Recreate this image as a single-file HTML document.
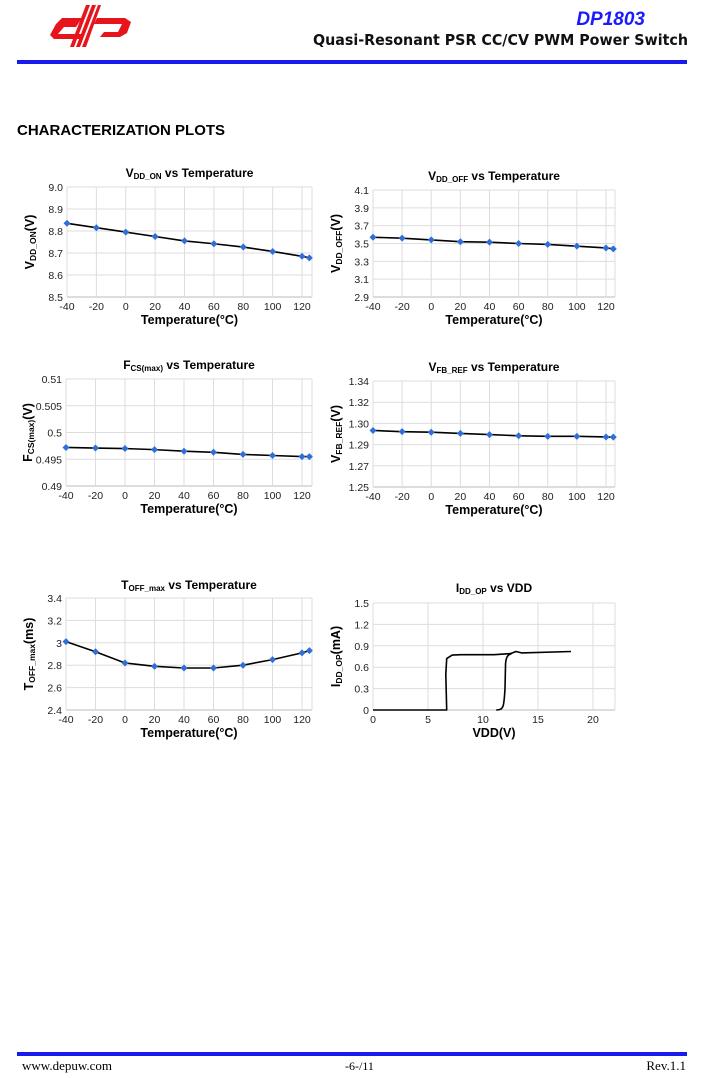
<!DOCTYPE html>
<html><head><meta charset="utf-8"><style>
html,body{margin:0;padding:0;background:#fff;}
body{width:708px;height:1078px;position:relative;overflow:hidden;font-family:"Liberation Sans",sans-serif;}
</style></head><body>
<svg id="s" width="708" height="1078" xmlns="http://www.w3.org/2000/svg" style="position:absolute;left:0;top:0">
<g fill="#e8141c">
<polygon points="62,18 82,18 76,27 64,27 58,34 84,34 80,39 54,39 50,35 56,24"/>
<polygon points="97,18 125,18 131,22 127,33 120,37 100,37 104,32 118,32 122,24 94,24"/>
<polygon points="86,5 90,5 74,47 70,47"/>
<polygon points="92,5 96,5 80,47 76,47"/>
<polygon points="98,5 101,5 86,47 82,47"/>
</g>
<text x="645" y="25" text-anchor="end" font-size="19" font-weight="bold" font-style="italic" fill="#1a1aff">DP1803</text>
<text x="688" y="45" text-anchor="end" font-size="15" font-weight="bold" fill="#111" font-family="DejaVu Sans, sans-serif" textLength="375" lengthAdjust="spacingAndGlyphs">Quasi-Resonant PSR CC/CV PWM Power Switch</text>
<rect x="17" y="60" width="670" height="4" fill="#1a1aee"/>
<text x="17" y="135" font-size="15" font-weight="bold">CHARACTERIZATION PLOTS</text>
<rect x="17" y="1052" width="670" height="4" fill="#1a1aee"/>
<text x="22" y="1070" font-size="13" font-family="Liberation Serif,serif">www.depuw.com</text>
<text x="345" y="1070" font-size="12" font-family="Liberation Serif,serif">-6-/11</text>
<text x="686" y="1070" text-anchor="end" font-size="13" font-family="Liberation Serif,serif">Rev.1.1</text>
<g id="charts"></g>
</svg>
<script>
var NS="http://www.w3.org/2000/svg",G=document.getElementById("charts");
function el(t,a,txt){var e=document.createElementNS(NS,t);for(var k in a)e.setAttribute(k,a[k]);if(txt!==undefined)e.textContent=txt;G.appendChild(e);return e;}
function rich(x,y,parts,attrs){var t=el("text",attrs);t.setAttribute("x",x);t.setAttribute("y",y);parts.forEach(function(p){var s=document.createElementNS(NS,"tspan");s.textContent=p[0];if(p[1]){s.setAttribute("font-size",p[1]);s.setAttribute("dy","2");}else if(t.childNodes.length){s.setAttribute("dy","-2");}t.appendChild(s);});return t;}
var T=[-40,-20,0,20,40,60,80,100,120,125];
function chart(c){
 var X=function(v){return c.x0+(v-c.xmin)*(c.x1-c.x0)/(c.xmax-c.xmin);};
 var Y=function(v){return c.y0-(v-c.ymin)*(c.y0-c.y1)/(c.ymax-c.ymin);};
 c.yt.forEach(function(v,i){var y=Y(v);el("line",{x1:c.x0,x2:c.xr,y1:y,y2:y,stroke:i==0?"#bbb":"#ddd","stroke-width":1});
  el("text",{x:c.x0-4,y:y+4,"text-anchor":"end","font-size":10.5,fill:"#222"},c.yl[i]);});
 c.xt.forEach(function(v){var x=X(v);el("line",{x1:x,x2:x,y1:c.y1,y2:c.y0,stroke:"#ddd","stroke-width":1});
  el("text",{x:x,y:c.y0+13,"text-anchor":"middle","font-size":10.5,fill:"#222"},String(v));});
 el("line",{x1:c.xr,x2:c.xr,y1:c.y1,y2:c.y0,stroke:"#ddd"});
 if(c.d){var p=c.d.map(function(v,i){return X(T[i])+","+Y(v);}).join(" ");
  el("polyline",{points:p,fill:"none",stroke:"#000","stroke-width":1.6});
  c.d.forEach(function(v,i){var x=X(T[i]),y=Y(v);el("polygon",{points:(x-3.5)+","+y+" "+x+","+(y-3.5)+" "+(x+3.5)+","+y+" "+x+","+(y+3.5),fill:"#2f6fd8"});});}
 if(c.path){var d=c.path.map(function(p,i){return (i?"L":"M")+X(p[0]).toFixed(1)+","+Y(p[1]).toFixed(1);}).join(" ");
  el("path",{d:d,fill:"none",stroke:"#000","stroke-width":1.6,"stroke-linejoin":"round"});}
 var cx=(c.x0+c.xr)/2;
 rich(cx,c.ty,c.title,{"text-anchor":"middle","font-size":12,"font-weight":"bold"});
 el("text",{x:cx,y:c.y0+27,"text-anchor":"middle","font-size":12.5,"font-weight":"bold"},c.xlab);
 rich(0,0,c.ylab,{"text-anchor":"middle","font-size":12.5,"font-weight":"bold",transform:"translate("+c.yx+","+((c.y0+c.y1)/2)+") rotate(-90)"});
}
var xt=[-40,-20,0,20,40,60,80,100,120];
chart({x0:67,x1:302,xmin:-40,xmax:120,xr:312,y0:297,y1:187,ymin:8.5,ymax:9.0,yt:[8.5,8.6,8.7,8.8,8.9,9.0],yl:["8.5","8.6","8.7","8.8","8.9","9.0"],xt:xt,
 d:[8.835,8.815,8.795,8.775,8.755,8.742,8.727,8.707,8.685,8.678],ty:177,title:[["V"],["DD_ON","8"],[" vs Temperature"]],xlab:"Temperature(°C)",ylab:[["V"],["DD_ON","8.5"],["(V)"]],yx:34});
chart({x0:373,x1:606,xmin:-40,xmax:120,xr:615,y0:297,y1:190,ymin:2.9,ymax:4.1,yt:[2.9,3.1,3.3,3.5,3.7,3.9,4.1],yl:["2.9","3.1","3.3","3.5","3.7","3.9","4.1"],xt:xt,
 d:[3.57,3.56,3.54,3.52,3.515,3.50,3.49,3.47,3.45,3.44],ty:180,title:[["V"],["DD_OFF","8"],[" vs Temperature"]],xlab:"Temperature(°C)",ylab:[["V"],["DD_OFF","8.5"],["(V)"]],yx:340});
chart({x0:66,x1:302,xmin:-40,xmax:120,xr:312,y0:486,y1:379,ymin:0.49,ymax:0.51,yt:[0.49,0.495,0.5,0.505,0.51],yl:["0.49","0.495","0.5","0.505","0.51"],xt:xt,
 d:[0.4972,0.4971,0.497,0.4968,0.4965,0.4963,0.4959,0.4957,0.4955,0.4955],ty:369,title:[["F"],["CS(max)","8"],[" vs Temperature"]],xlab:"Temperature(°C)",ylab:[["F"],["CS(max)","8.5"],["(V)"]],yx:32});
chart({x0:373,x1:606,xmin:-40,xmax:120,xr:615,y0:487,y1:381,ymin:1.25,ymax:1.34,yt:[1.25,1.268,1.286,1.304,1.322,1.34],yl:["1.25","1.27","1.29","1.30","1.32","1.34"],xt:xt,
 d:[1.298,1.297,1.2965,1.2955,1.2945,1.2935,1.293,1.293,1.2925,1.2923],ty:371,title:[["V"],["FB_REF","8"],[" vs Temperature"]],xlab:"Temperature(°C)",ylab:[["V"],["FB_REF","8.5"],["(V)"]],yx:340});
chart({x0:66,x1:302,xmin:-40,xmax:120,xr:312,y0:710,y1:598,ymin:2.4,ymax:3.4,yt:[2.4,2.6,2.8,3.0,3.2,3.4],yl:["2.4","2.6","2.8","3","3.2","3.4"],xt:xt,
 d:[3.01,2.92,2.82,2.79,2.775,2.775,2.80,2.85,2.91,2.93],ty:589,title:[["T"],["OFF_max","8"],[" vs Temperature"]],xlab:"Temperature(°C)",ylab:[["T"],["OFF_max","8.5"],["(ms)"]],yx:33});
chart({x0:373,x1:593,xmin:0,xmax:20,xr:615,y0:710,y1:603,ymin:0,ymax:1.5,yt:[0,0.3,0.6,0.9,1.2,1.5],yl:["0","0.3","0.6","0.9","1.2","1.5"],xt:[0,5,10,15,20],
 path:[[0,0],[6.7,0],[6.62,0.5],[6.7,0.72],[7.2,0.77],[8,0.775],[11,0.775],[12.5,0.79],[13,0.82],[13.5,0.8],[18,0.82]],
 ty:592,title:[["I"],["DD_OP","8"],[" vs VDD"]],xlab:"VDD(V)",ylab:[["I"],["DD_OP","8.5"],["(mA)"]],yx:340});
(function(){var X=function(v){return 373+v*11;},Y=function(v){return 710-v*107/1.5;};
 var d="M"+X(11.2)+","+Y(0)+" C"+X(11.9)+","+Y(0)+" "+X(11.9)+","+Y(0.05)+" "+X(12.0)+","+Y(0.3)+" L"+X(12.05)+","+Y(0.65)+" C"+X(12.1)+","+Y(0.75)+" "+X(12.3)+","+Y(0.78)+" "+X(12.6)+","+Y(0.79);
 el("path",{d:d,fill:"none",stroke:"#000","stroke-width":1.6});})();
</script>
</body></html>
